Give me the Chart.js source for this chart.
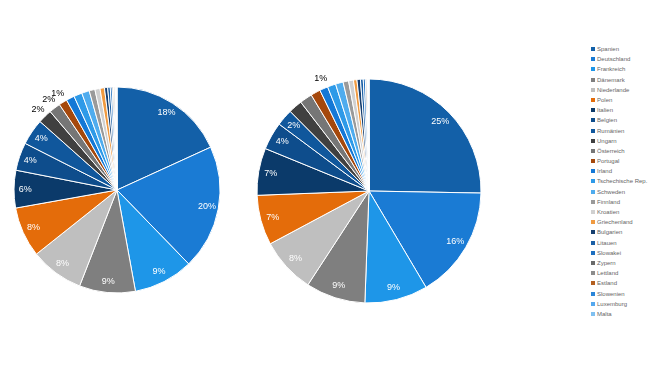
<!DOCTYPE html>
<html>
<head>
<meta charset="utf-8">
<script src="https://cdn.jsdelivr.net/npm/chart.js@4/dist/chart.umd.min.js"></script>
<style>
  body { margin: 0; background: #fff; width: 650px; height: 366px; position: relative; overflow: hidden; font-family: "Liberation Sans", Arial, sans-serif; }
  canvas { position: absolute; }
  #left { left: 0; top: 60px; }
  #right { left: 244px; top: 61px; }
  #legend { position: absolute; left: 591px; top: 45px; margin: 0; padding: 0; list-style: none; }
  #legend li { height: 10.2px; line-height: 8px; font-size: 6px; color: #666666; white-space: nowrap; }
  #legend span { display: inline-block; width: 4px; height: 4px; margin-right: 2px; vertical-align: 0px; }
</style>
</head>
<body>
<canvas id="left" width="234" height="260"></canvas>
<canvas id="right" width="250" height="260"></canvas>
<ul id="legend"></ul>
<script>
const countries = ['Spanien', 'Deutschland', 'Frankreich', 'Dänemark', 'Niederlande', 'Polen', 'Italien',
  'Belgien', 'Rumänien', 'Ungarn', 'Österreich', 'Portugal', 'Irland', 'Tschechische Rep.', 'Schweden',
  'Finnland', 'Kroatien', 'Griechenland', 'Bulgarien', 'Litauen', 'Slowakei', 'Zypern', 'Lettland',
  'Estland', 'Slowenien', 'Luxemburg', 'Malta'];

// shares in %
const leftShare = [18.2, 19.6, 9.4, 8.8, 8.4, 7.9, 5.9, 4.4, 4.1, 2.2, 1.8, 1.3, 1.3, 1.3, 1.2,
  0.9, 0.8, 0.7, 0.5, 0.4, 0.3, 0.2, 0.2, 0.1, 0.1, 0.1, 0.05];
const rightShare = [25.3, 16.2, 9.1, 8.6, 8.0, 7.2, 6.8, 4.0, 2.4, 2.0, 1.8, 1.4, 1.2, 1.2, 1.1,
  0.8, 0.7, 0.5, 0.5, 0.4, 0.3, 0.2, 0.1, 0.1, 0.05, 0.05, 0.02];

const colors = ['#1360a8', '#1a7bd4', '#1e96e8', '#7f7f7f', '#bfbfbf', '#e46c0a', '#0b3a6a',
  '#0e4d8c', '#10579c', '#404040', '#767676', '#a5480c', '#1478d6', '#2e9ae8', '#4facee',
  '#9a9a9a', '#d0d0d0', '#f09a40', '#163e6e', '#1a5fa5', '#1e6fbf', '#6a6a6a', '#8c8c8c',
  '#b35f20', '#2a85d8', '#55a8ee', '#80c0f0'];

// which slices get a label, and which of those sit outside the pie
const leftInside = [0, 1, 2, 3, 4, 5, 6, 7, 8];
const leftOutside = [9, 10, 11];
const rightInside = [0, 1, 2, 3, 4, 5, 6, 7, 8];
const rightOutside = [11];

const pctLabels = {
  id: 'pctLabels',
  afterDatasetsDraw(chart, args, opts) {
    const ctx = chart.ctx;
    const data = chart.data.datasets[0].data;
    const total = data.reduce((a, b) => a + b, 0);
    const arcs = chart.getDatasetMeta(0).data;
    ctx.save();
    ctx.font = '9px "Liberation Sans", Arial, sans-serif';
    ctx.textAlign = 'center';
    ctx.textBaseline = 'middle';
    arcs.forEach((arc, i) => {
      const inside = opts.inside.includes(i);
      const outside = opts.outside.includes(i);
      if (!inside && !outside) return;
      const p = arc.getProps(['x', 'y', 'startAngle', 'endAngle', 'outerRadius'], true);
      // outside labels lean a little clockwise, like the excel best-fit ones
      const mid = (p.startAngle + p.endAngle) / 2 + (outside ? opts.shift : 0);
      const r = inside ? p.outerRadius * 0.89 : p.outerRadius + 10;
      ctx.fillStyle = inside ? '#ffffff' : '#000000';
      ctx.fillText(Math.round(data[i] / total * 100) + '%', p.x + Math.cos(mid) * r, p.y + Math.sin(mid) * r);
    });
    ctx.restore();
  }
};

function makePie(id, values, radius, inside, outside, shift) {
  return new Chart(document.getElementById(id).getContext('2d'), {
    type: 'pie',
    data: {
      labels: countries,
      datasets: [{
        data: values,
        backgroundColor: colors,
        borderColor: '#ffffff',
        borderWidth: 1,
      }]
    },
    options: {
      responsive: false,
      animation: false,
      radius: radius,
      plugins: {
        legend: false,
        tooltip: { enabled: false },
        pctLabels: { inside: inside, outside: outside, shift: shift },
      }
    },
    plugins: [pctLabels]
  });
}

makePie('left', leftShare, 103, leftInside, leftOutside, 0);
makePie('right', rightShare, 112, rightInside, rightOutside, 0.09);

const legend = document.getElementById('legend');
countries.forEach((name, i) => {
  const li = document.createElement('li');
  li.innerHTML = '<span style="background:' + colors[i] + '"></span>' + name;
  legend.appendChild(li);
});
</script>
</body>
</html>
